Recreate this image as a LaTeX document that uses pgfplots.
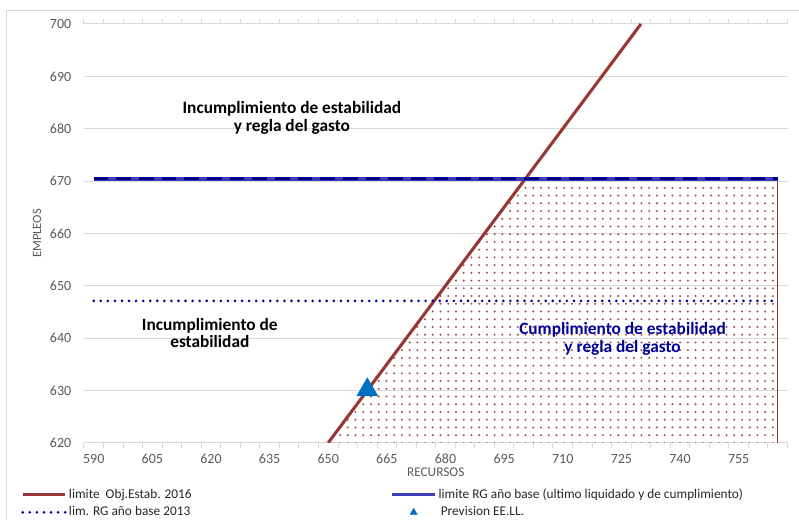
\documentclass[border=0pt]{standalone}
\usepackage{pgfplots}
\pgfplotsset{compat=1.18}
\usepackage{fontspec}
\setmainfont{Carlito}
\usetikzlibrary{patterns}

\definecolor{redline}{HTML}{953735}
\definecolor{navyline}{HTML}{00008B}
\definecolor{navylight}{HTML}{3C3CB4}
\definecolor{dotblue}{HTML}{000099}
\definecolor{tri}{HTML}{0070C0}
\definecolor{tickgray}{HTML}{595959}
\definecolor{gridgray}{HTML}{D9D9D9}
\definecolor{txtblue}{HTML}{00009A}
\definecolor{dotred}{HTML}{A6504E}

% small dotted fill for the compliance zone
\pgfdeclarepatternformonly{rdots}{\pgfqpoint{-1pt}{-1pt}}{\pgfqpoint{1pt}{1pt}}{\pgfqpoint{5.8pt}{5.8pt}}{%
  \pgfpathcircle{\pgfpointorigin}{0.85pt}\pgfusepath{fill}}

\pgfplotsset{
  trilegend/.style={legend image code/.code={%
    \draw[##1, only marks, mark size=3pt] plot coordinates {(16pt,0pt)};}},
}

\begin{document}
\begin{tikzpicture}
\path (0pt,0pt) rectangle (599.25pt,390pt);
\draw[gridgray, line width=0.75pt] (5.25pt,0pt) -- (5.25pt,381.75pt) -- (599.25pt,381.75pt);
\begin{axis}[
  at={(63pt,57.75pt)}, anchor=south west,
  scale only axis,
  width=528pt, height=314.25pt,
  xmin=587.5, xmax=767.5,
  ymin=620, ymax=700,
  xtick={590,605,...,755},
  minor xtick={587.5,592.5,...,767.5},
  ytick={620,630,...,700},
  ymajorgrids,
  grid style={draw=gridgray, line width=0.75pt},
  major tick length=0pt, minor tick length=4pt,
  tick align=outside,
  minor tick style={draw=gridgray, line width=0.75pt},
  axis line style={draw=none},
  /pgf/number format/assume math mode=true,
  tick label style={font=\fontsize{10.5}{12}\selectfont, text=tickgray},
  xticklabel style={yshift=-5pt},
  yticklabel style={xshift=-6pt},
  xlabel={RECURSOS},
  xlabel style={at={(axis description cs:0.5,0)}, anchor=center, yshift=-22.5pt,
    font=\fontsize{10}{12}\selectfont, text=tickgray},
  ylabel={EMPLEOS},
  ylabel style={at={(axis description cs:0,0.5)}, anchor=center, yshift=35.25pt,
    font=\fontsize{9.5}{10}\selectfont, text=tickgray},
  legend columns=2,
  legend cell align=left,
  legend style={draw=none, fill=none, inner sep=0pt,
    at={(axis description cs:-0.0895,-0.105)}, anchor=north west,
    font=\fontsize{10}{12}\selectfont, text=black!85,
    row sep=1.5pt,
    nodes={inner sep=1.5pt}},
  legend image code/.code={\draw[#1] (0pt,0pt) -- (32pt,0pt);},
]
% dotted compliance zone
\addplot[forget plot, draw=none, pattern=rdots, pattern color=dotred]
  coordinates {(650,620) (700.4,670.4) (765,670.4) (765,620) (650,620)};
\addplot[forget plot, redline, line width=1pt] coordinates {(765,620) (765,670.4)};

\addplot[redline, line width=2.3pt] coordinates {(650,620) (730,700)};
\addlegendentry{\makebox[240pt][l]{limite\ \ Obj.Estab. 2016}}

\addplot[navylight, line width=2.4pt] coordinates {(590,670.4) (765,670.4)};
\addlegendentry{limite RG año base (ultimo liquidado y de cumplimiento)}
\addplot[forget plot, navyline, line width=2.2pt, dash pattern=on 11pt off 6pt]
  coordinates {(590,670.4) (765,670.4)};

\addplot[dotblue, line width=2.2pt, line cap=round, dash pattern=on 0pt off 5.3pt]
  coordinates {(590,647.1) (765,647.1)};
\addlegendentry{\makebox[240pt][l]{lim. RG año base 2013}}

\addplot[only marks, mark=triangle*, mark size=9pt, color=tri, trilegend]
  coordinates {(660,630.1)};
\addlegendentry{\,Prevision EE.LL.}

\node[font=\bfseries\fontsize{13}{13.5}\selectfont, align=center, text=black]
  at (axis cs:640.7,682.0) {Incumplimiento de estabilidad\\y regla del gasto};
\node[font=\bfseries\fontsize{13}{12.5}\selectfont, align=center, text=black]
  at (axis cs:619.7,641.0) {Incumplimiento de\\estabilidad};
\node[font=\bfseries\fontsize{13}{13.5}\selectfont, align=center, text=txtblue]
  at (axis cs:725.3,639.9) {Cumplimiento de estabilidad\\y regla del gasto};
\end{axis}
\end{tikzpicture}
\end{document}
